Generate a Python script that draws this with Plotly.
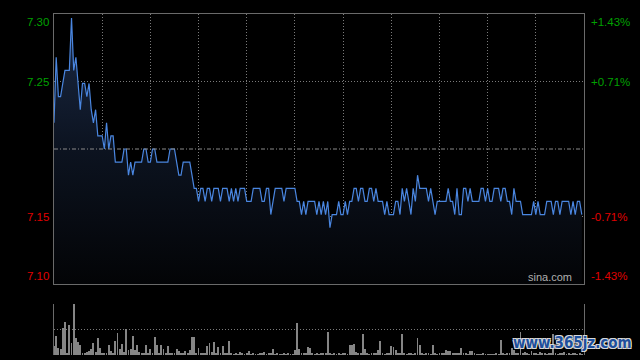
import plotly.graph_objects as go

# ---------------- data ----------------
prev_close = 7.20

price = [
    7.22, 7.27, 7.24, 7.24, 7.25, 7.26, 7.26, 7.26, 7.30, 7.26,
    7.27, 7.25, 7.23, 7.25, 7.25, 7.24, 7.25, 7.23, 7.22, 7.23,
    7.21, 7.21, 7.21, 7.20, 7.22, 7.20, 7.21, 7.21, 7.19, 7.19,
    7.19, 7.19, 7.20, 7.20, 7.18, 7.19, 7.18, 7.19, 7.19, 7.19,
    7.19, 7.20, 7.20, 7.19, 7.19, 7.20, 7.20, 7.19, 7.19, 7.19,
    7.19, 7.19, 7.19, 7.20, 7.20, 7.20, 7.19, 7.18, 7.18, 7.19,
    7.19, 7.19, 7.19, 7.18, 7.17, 7.17, 7.16, 7.17, 7.17, 7.16,
    7.17, 7.17, 7.16, 7.17, 7.17, 7.17, 7.16, 7.17, 7.17, 7.17,
    7.16, 7.17, 7.16, 7.17, 7.16, 7.17, 7.17, 7.17, 7.16, 7.16,
    7.16, 7.17, 7.17, 7.17, 7.17, 7.16, 7.16, 7.17, 7.17, 7.15,
    7.16, 7.17, 7.17, 7.17, 7.17, 7.16, 7.17, 7.17, 7.17, 7.17,
    7.17, 7.16, 7.16, 7.15, 7.16, 7.15, 7.16, 7.16, 7.16, 7.16,
    7.15, 7.16, 7.15, 7.16, 7.15, 7.16, 7.14, 7.15, 7.15, 7.15,
    7.16, 7.15, 7.15, 7.16, 7.15, 7.16, 7.16, 7.17, 7.17, 7.16,
    7.17, 7.17, 7.16, 7.16, 7.17, 7.17, 7.16, 7.17, 7.16, 7.16,
    7.16, 7.15, 7.16, 7.15, 7.15, 7.15, 7.16, 7.16, 7.15, 7.17,
    7.16, 7.17, 7.16, 7.15, 7.17, 7.16, 7.18, 7.17, 7.17, 7.17,
    7.17, 7.16, 7.17, 7.16, 7.15, 7.16, 7.16, 7.16, 7.16, 7.16,
    7.17, 7.16, 7.16, 7.15, 7.17, 7.15, 7.15, 7.17, 7.17, 7.16,
    7.17, 7.16, 7.16, 7.16, 7.16, 7.17, 7.17, 7.16, 7.17, 7.16,
    7.16, 7.17, 7.17, 7.17, 7.16, 7.17, 7.17, 7.16, 7.16, 7.15,
    7.17, 7.16, 7.16, 7.16, 7.15, 7.15, 7.15, 7.15, 7.15, 7.16,
    7.15, 7.16, 7.15, 7.15, 7.15, 7.16, 7.16, 7.16, 7.15, 7.16,
    7.16, 7.15, 7.16, 7.16, 7.16, 7.16, 7.15, 7.16, 7.15, 7.16,
    7.16, 7.15,
]

volume = [
    9, 19, 7, 6, 27, 33, 2, 30, 12, 51,
    17, 13, 10, 2, 2, 3, 4, 6, 12, 3,
    17, 7, 2, 2, 2, 10, 4, 2, 14, 22,
    6, 11, 3, 26, 5, 6, 19, 5, 10, 3,
    2, 2, 10, 2, 6, 2, 18, 10, 2, 10,
    6, 2, 9, 2, 2, 2, 6, 4, 2, 2,
    4, 2, 5, 18, 18, 2, 7, 2, 2, 2,
    9, 12, 3, 13, 2, 8, 2, 9, 2, 2,
    14, 2, 1, 2, 1, 3, 2, 1, 2, 4,
    1, 2, 1, 1, 2, 2, 3, 1, 2, 2,
    6, 1, 2, 1, 1, 2, 1, 2, 1, 1,
    5, 32, 6, 2, 2, 2, 8, 7, 2, 1,
    2, 1, 2, 2, 2, 23, 2, 1, 2, 1,
    2, 1, 2, 2, 1, 10, 10, 11, 3, 2,
    2, 21, 6, 2, 1, 2, 2, 2, 5, 14,
    2, 1, 2, 2, 9, 8, 5, 2, 2, 21,
    2, 1, 2, 2, 1, 2, 17, 10, 2, 1,
    2, 2, 1, 10, 2, 1, 2, 2, 2, 5,
    4, 4, 2, 2, 2, 2, 7, 2, 2, 1,
    4, 4, 2, 1, 1, 1, 2, 1, 1, 1,
    1, 1, 2, 1, 15, 2, 1, 2, 2, 7,
    5, 2, 2, 23, 2, 3, 2, 1, 4, 2,
    2, 1, 3, 2, 2, 1, 2, 2, 21, 2,
    1, 2, 2, 3, 1, 2, 1, 2, 2, 1,
    2, 1,
]

x_idx = list(range(len(price)))
x_grid = [22, 44, 66, 88, 110, 132, 154, 176, 198, 220]

y_top, y_bottom = 7.303, 7.097
y_tick_vals = [7.303, 7.2515, 7.1485, 7.097]
y_tick_text = ["7.30", "7.25", "7.15", "7.10"]
pct_text = ["+1.43%", "+0.71%", "-0.71%", "-1.43%"]
label_colors = ["#00a000", "#00a000", "#e00000", "#e00000"]

# ---------------- figure ----------------
fig = go.Figure()

fig.add_trace(go.Scatter(
    x=x_idx, y=price, mode="lines",
    line=dict(color="#4a86e0", width=1.2),
    fill="tozeroy",
    fillgradient=dict(type="vertical", start=y_bottom, stop=y_top,
                      colorscale=[[0, "#030406"], [0.5, "#0c1320"], [1, "#1b2a46"]]),
    hoverinfo="skip", xaxis="x", yaxis="y",
))

fig.add_trace(go.Bar(
    x=x_idx, y=volume, width=0.4,
    marker=dict(color="#858585", line=dict(width=0)),
    hoverinfo="skip", xaxis="x2", yaxis="y2",
))

frame = "#6a6a6a"
gridc = "#7a7a7a"

fig.update_layout(
    width=640, height=360,
    margin=dict(l=54, r=56, t=14, b=5),
    paper_bgcolor="black", plot_bgcolor="black",
    showlegend=False,
    bargap=0,
    xaxis=dict(domain=[0, 1], range=[0, 242], anchor="y",
               tickvals=x_grid, showticklabels=False, ticks="",
               showgrid=True, gridcolor=gridc, griddash="1px,2px", gridwidth=1,
               showline=True, linecolor=frame, linewidth=1, mirror=True,
               zeroline=False, fixedrange=True),
    yaxis=dict(domain=[0.2082, 1], range=[y_bottom, y_top],
               tickvals=[y_tick_vals[1], y_tick_vals[2]], showticklabels=False, ticks="",
               showgrid=True, gridcolor=gridc, griddash="1px,2px", gridwidth=1,
               showline=True, linecolor=frame, linewidth=1, mirror=True,
               zeroline=False, fixedrange=True),
    xaxis2=dict(domain=[0, 1], range=[0, 242], anchor="y2",
                showticklabels=False, ticks="", showgrid=False,
                showline=False, zeroline=False, fixedrange=True),
    yaxis2=dict(domain=[0, 0.1496], range=[0, 51], anchor="x2",
                tickvals=[25.5, 51], showticklabels=False, ticks="",
                showgrid=True, gridcolor=gridc, griddash="1px,2px", gridwidth=1,
                showline=True, linecolor=frame, linewidth=1, mirror=True,
                zeroline=False, fixedrange=True),
)

# previous close dash-dot line
fig.add_shape(type="line", xref="x domain", yref="y",
              x0=0, x1=1, y0=prev_close, y1=prev_close,
              line=dict(color="#8a8a8a", width=1, dash="4px,2px,1px,2px"))

# axis labels
anchors = ["top", "middle", "middle", "bottom"]
for v, t, p, c, a in zip(y_tick_vals, y_tick_text, pct_text, label_colors, anchors):
    fig.add_annotation(xref="paper", yref="y", x=0, y=v, text=t,
                       showarrow=False, xanchor="right", yanchor=a, xshift=-3,
                       font=dict(family="Liberation Sans, Arial", size=11.5, color=c))
    fig.add_annotation(xref="paper", yref="y", x=1, y=v, text=p,
                       showarrow=False, xanchor="left", yanchor=a, xshift=5,
                       font=dict(family="Liberation Sans, Arial", size=11.5, color=c))

fig.add_annotation(xref="paper", yref="y", x=1, y=y_bottom, text="sina.com",
                   showarrow=False, xanchor="right", yanchor="bottom", xshift=-10, yshift=-1,
                   font=dict(family="Liberation Sans, Arial", size=11, color="#b0b0b0"))

fig.add_annotation(xref="paper", yref="paper", x=1.0, y=0.0, text="<b>www.365jz.com</b>",
                   showarrow=False, xanchor="right", yanchor="bottom", xshift=50, yshift=1,
                   font=dict(family="DejaVu Sans Condensed, DejaVu Sans", size=15, color="#1d4f9c",
                             shadow="1px 1px 0 #d8d8d8, -1px -1px 0 #d8d8d8, 1px -1px 0 #d8d8d8, -1px 1px 0 #d8d8d8"))

fig.write_html("out.html", config={"displayModeBar": False},
               post_script="document.body.style.margin='0';document.body.style.background='black';")
